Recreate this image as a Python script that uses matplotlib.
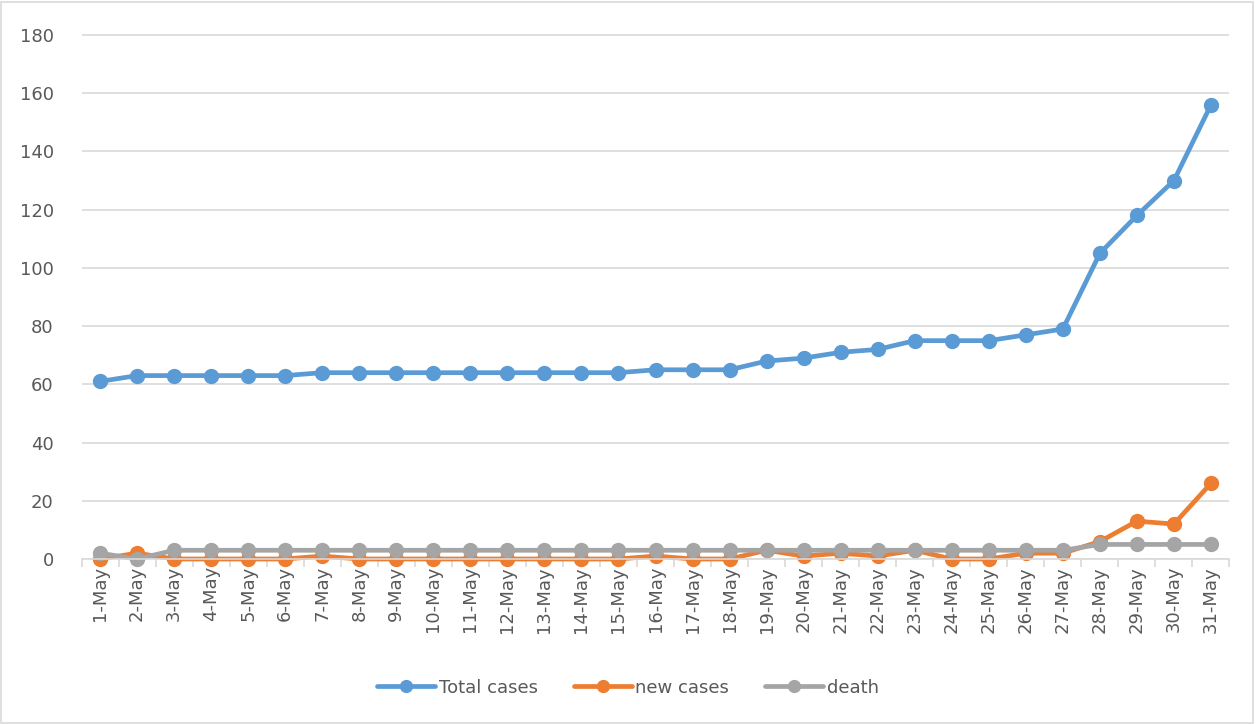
import matplotlib.pyplot as plt
from matplotlib.patches import Rectangle

days = [f"{d}-May" for d in range(1, 32)]
total_cases = [61, 63, 63, 63, 63, 63, 64, 64, 64, 64, 64, 64, 64, 64, 64, 65,
               65, 65, 68, 69, 71, 72, 75, 75, 75, 77, 79, 105, 118, 130, 156]
new_cases = [0, 2, 0, 0, 0, 0, 1, 0, 0, 0, 0, 0, 0, 0, 0, 1,
             0, 0, 3, 1, 2, 1, 3, 0, 0, 2, 2, 6, 13, 12, 26]
death = [2, 0, 3, 3, 3, 3, 3, 3, 3, 3, 3, 3, 3, 3, 3, 3,
         3, 3, 3, 3, 3, 3, 3, 3, 3, 3, 3, 5, 5, 5, 5]

TEXT = "#595959"
GRID = "#D9D9D9"


def main() -> None:
    plt.rcParams["font.family"] = "DejaVu Sans"
    fig = plt.figure(figsize=(12.56, 7.24), dpi=100)
    # a little headroom above 180 so the top gridline is not clipped
    ax = fig.add_axes([0.0649, 0.2279, 0.9140, 0.7258])

    x = list(range(len(days)))
    series = [
        ("Total cases", total_cases, "#5B9BD5"),
        ("new cases", new_cases, "#ED7D31"),
        ("death", death, "#A5A5A5"),
    ]
    for label, values, color in series:
        ax.plot(x, values, color=color, linewidth=3.4, marker="o",
                markersize=10, label=label, solid_capstyle="round",
                clip_on=False)

    ax.set_xlim(-0.5, len(days) - 0.5)
    ax.set_ylim(0, 180.5)
    ax.set_yticks(range(0, 181, 20))
    ax.yaxis.grid(True, color=GRID, linewidth=1.2)
    ax.set_axisbelow(True)

    ax.set_xticks(x)
    ax.set_xticklabels(days, rotation=90)
    ax.set_xticks([i + 0.5 for i in range(-1, len(days))], minor=True)
    ax.tick_params(axis="x", which="major", length=0, pad=5,
                   labelsize=13, labelcolor=TEXT)
    ax.tick_params(axis="x", which="minor", length=6, width=1.2, color=GRID)
    ax.tick_params(axis="y", length=0, pad=20, labelsize=13, labelcolor=TEXT)

    for side in ("top", "right", "left"):
        ax.spines[side].set_visible(False)
    ax.spines["bottom"].set_color(GRID)
    ax.spines["bottom"].set_linewidth(1.2)

    fig.legend(loc="center", bbox_to_anchor=(0.5, 0.05), ncol=3,
               frameon=False, fontsize=13, labelcolor=TEXT,
               handlelength=3.2, markerscale=0.85, columnspacing=2.0,
               handletextpad=0.2)

    fig.patches.append(Rectangle((0.001, 0.001), 0.997, 0.996,
                                 transform=fig.transFigure, fill=False,
                                 edgecolor=GRID, linewidth=1.2))
    fig.savefig("out.png", dpi=100)
    plt.close(fig)


if __name__ == "__main__":
    main()
